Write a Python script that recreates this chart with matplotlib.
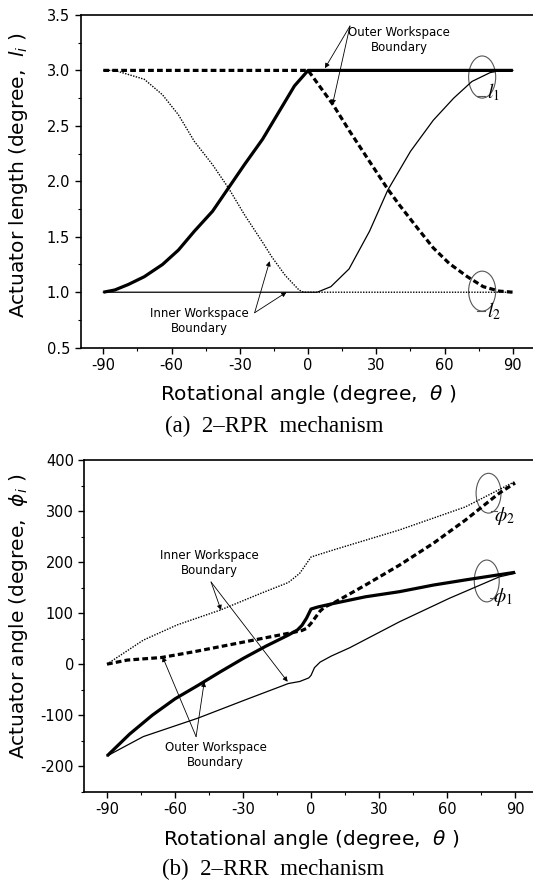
import matplotlib

matplotlib.use("Agg")
import matplotlib.pyplot as plt
from matplotlib.patches import Ellipse
from matplotlib.ticker import MultipleLocator

plt.rcParams["axes.unicode_minus"] = False

# (a) 2-RPR mechanism, actuator lengths
theta_l1_outer = [-90, -85, -79, -72, -64, -57, -50, -42, -35, -28, -20, -13, -6, 0, 90]
l1_outer = [1.0, 1.02, 1.07, 1.14, 1.25, 1.38, 1.55, 1.73, 1.94, 2.15, 2.38, 2.62, 2.86, 3.0, 3.0]

theta_l2_outer = [-90, 0, 11, 18, 26, 35, 40, 48, 55, 62, 70, 77, 84, 90]
l2_outer = [3.0, 3.0, 2.69, 2.46, 2.21, 1.93, 1.79, 1.58, 1.40, 1.26, 1.14, 1.05, 1.01, 1.0]

theta_l1_inner = [-90, 0, 4, 10, 18, 27, 35, 45, 55, 64, 72, 80, 85, 90]
l1_inner = [1.0, 1.0, 1.0, 1.05, 1.21, 1.55, 1.92, 2.27, 2.55, 2.75, 2.9, 2.98, 3.0, 3.0]

theta_l2_inner = [-90, -85, -72, -64, -57, -50, -42, -35, -28, -20, -16, -10, -4, -2, 0, 90]
l2_inner = [3.0, 3.0, 2.92, 2.78, 2.60, 2.36, 2.15, 1.94, 1.70, 1.45, 1.32, 1.15, 1.02, 1.0, 1.0, 1.0]

# (b) 2-RRR mechanism, actuator angles
theta_phi1_outer = [-90, -80, -70, -60, -50, -40, -30, -20, -10, -6, -4, -2, 0, 3, 10, 24, 39, 54, 68, 90]
phi1_outer = [-180, -137, -100, -68, -42, -15, 11, 35, 57, 67, 76, 90, 108, 112, 119, 132, 142, 155, 165, 180]

theta_phi2_outer = [-90, -81, -66, -52, -37, -22, -7, -4, -2, 0, 2, 4, 6, 10, 24, 39, 54, 68, 83, 90]
phi2_outer = [0, 8, 13, 24, 37, 50, 63, 66, 70, 80, 92, 104, 112, 120, 155, 194, 237, 282, 335, 355]

theta_phi2_inner = [-90, -74, -59, -40, -22, -10, -5, -2, 0, 10, 39, 68, 90]
phi2_inner = [0, 47, 77, 106, 139, 160, 178, 197, 210, 224, 263, 308, 358]

theta_phi1_inner = [-90, -74, -50, -29, -10, -5, -1, 0, 1.5, 4, 9, 17, 39, 61, 83, 90]
phi1_inner = [-180, -142, -106, -70, -38, -34, -27, -22, -7, 4, 16, 32, 83, 129, 171, 178]

x_ticks = [-90, -60, -30, 0, 30, 60, 90]

THICK = dict(color="black", lw=2.3, solid_capstyle="butt")
DASHED = dict(color="black", lw=2.3, linestyle=(0, (1.8, 1.0)))
THIN = dict(color="black", lw=0.9)
DOTTED = dict(color="black", lw=1.0, linestyle=(0, (1.0, 1.0)))
ARROW = dict(arrowstyle="-|>", color="black", lw=0.6, mutation_scale=7, shrinkA=0, shrinkB=0)


def style_axes(ax, ylim, ymajor, yminor):
    ax.set_xlim(-100, 100)
    ax.set_ylim(*ylim)
    ax.set_xticks(x_ticks)
    ax.xaxis.set_minor_locator(MultipleLocator(15))
    ax.yaxis.set_major_locator(MultipleLocator(ymajor))
    ax.yaxis.set_minor_locator(MultipleLocator(yminor))
    ax.tick_params(which="major", direction="out", length=4.5, width=1.0, labelsize=10.5, pad=3)
    ax.tick_params(which="minor", direction="out", length=2.5, width=0.8)
    for spine in ax.spines.values():
        spine.set_linewidth(1.2)


def add_group_label(ax, center, label, label_xy, size, dash):
    w, h = size
    ax.add_patch(Ellipse(center, w, h, fill=False, edgecolor="#555555", lw=0.8))
    ax.plot(dash[0], dash[1], color="#555555", lw=0.8)
    ax.text(*label_xy, label, fontsize=14, ha="center", va="center", math_fontfamily="stix")


def annotate_pair(ax, text, text_xy, origin, tips):
    ax.text(*text_xy, text, fontsize=8.5, ha="center", va="center", linespacing=1.2)
    for tip in tips:
        ax.annotate("", xy=tip, xytext=origin, arrowprops=ARROW)


def draw_rpr(ax):
    ax.plot(theta_l1_outer, l1_outer, **THICK)
    ax.plot(theta_l2_outer, l2_outer, **DASHED)
    ax.plot(theta_l1_inner, l1_inner, **THIN)
    ax.plot(theta_l2_inner, l2_inner, **DOTTED)

    style_axes(ax, (0.5, 3.5), 0.5, 0.25)
    ax.set_xlabel(r"Rotational angle (degree,  $\theta$ )", fontsize=14.5)
    ax.set_ylabel(r"Actuator length (degree,  $l_i$ )", fontsize=14.5)
    ax.xaxis.set_label_coords(0.5, -0.105)
    ax.yaxis.set_label_coords(-0.112, 0.52)

    annotate_pair(ax, "Outer Workspace\nBoundary", (40, 3.275), (18.4, 3.40),
                  [(7.4, 3.02), (10.7, 2.69)])
    annotate_pair(ax, "Inner Workspace\nBoundary", (-48, 0.74), (-23.5, 0.815),
                  [(-16.9, 1.28), (-9.5, 1.0)])

    add_group_label(ax, (76.5, 2.94), r"$l_1$", (81.5, 2.80), (11.9, 0.38),
                    ([74.3, 77.6], [2.765, 2.765]))
    add_group_label(ax, (76.5, 1.01), r"$l_2$", (81.5, 0.83), (11.9, 0.36),
                    ([74.3, 77.9], [0.83, 0.83]))


def draw_rrr(ax):
    ax.plot(theta_phi1_outer, phi1_outer, **THICK)
    ax.plot(theta_phi2_outer, phi2_outer, **DASHED)
    ax.plot(theta_phi1_inner, phi1_inner, **THIN)
    ax.plot(theta_phi2_inner, phi2_inner, **DOTTED)

    style_axes(ax, (-250, 400), 100, 50)
    ax.set_xlabel(r"Rotational angle (degree,  $\theta$ )", fontsize=14.5)
    ax.set_ylabel(r"Actuator angle (degree,  $\phi_i$ )", fontsize=14.5)
    ax.xaxis.set_label_coords(0.5, -0.11)
    ax.yaxis.set_label_coords(-0.12, 0.53)

    annotate_pair(ax, "Inner Workspace\nBoundary", (-45, 199), (-44.1, 161),
                  [(-39.7, 106), (-10.3, -34.5)])
    annotate_pair(ax, "Outer Workspace\nBoundary", (-42, -178), (-50.7, -142),
                  [(-65.5, 14.5), (-47.1, -34.5)])

    add_group_label(ax, (78.3, 335), r"$\phi_2$", (85.5, 290), (11, 78),
                    ([79.5, 82.0], [300, 300]))
    add_group_label(ax, (77.5, 163), r"$\phi_1$", (84.5, 131), (11, 82),
                    ([79.0, 81.5], [130, 130]))


def main():
    fig = plt.figure(figsize=(5.33, 8.84), dpi=100)

    ax_top = fig.add_axes([0.1512, 0.6067, 0.8537, 0.3764])
    ax_bottom = fig.add_axes([0.1582, 0.1044, 0.8507, 0.3752])

    draw_rpr(ax_top)
    draw_rrr(ax_bottom)

    fig.text(0.514, 0.518, "(a)  2\u2013RPR  mechanism", family="Liberation Serif",
             fontsize=16.5, ha="center", va="center")
    fig.text(0.512, 0.017, "(b)  2\u2013RRR  mechanism", family="Liberation Serif",
             fontsize=16.5, ha="center", va="center")

    fig.savefig("out.png", dpi=100)
    plt.close(fig)


if __name__ == "__main__":
    main()
